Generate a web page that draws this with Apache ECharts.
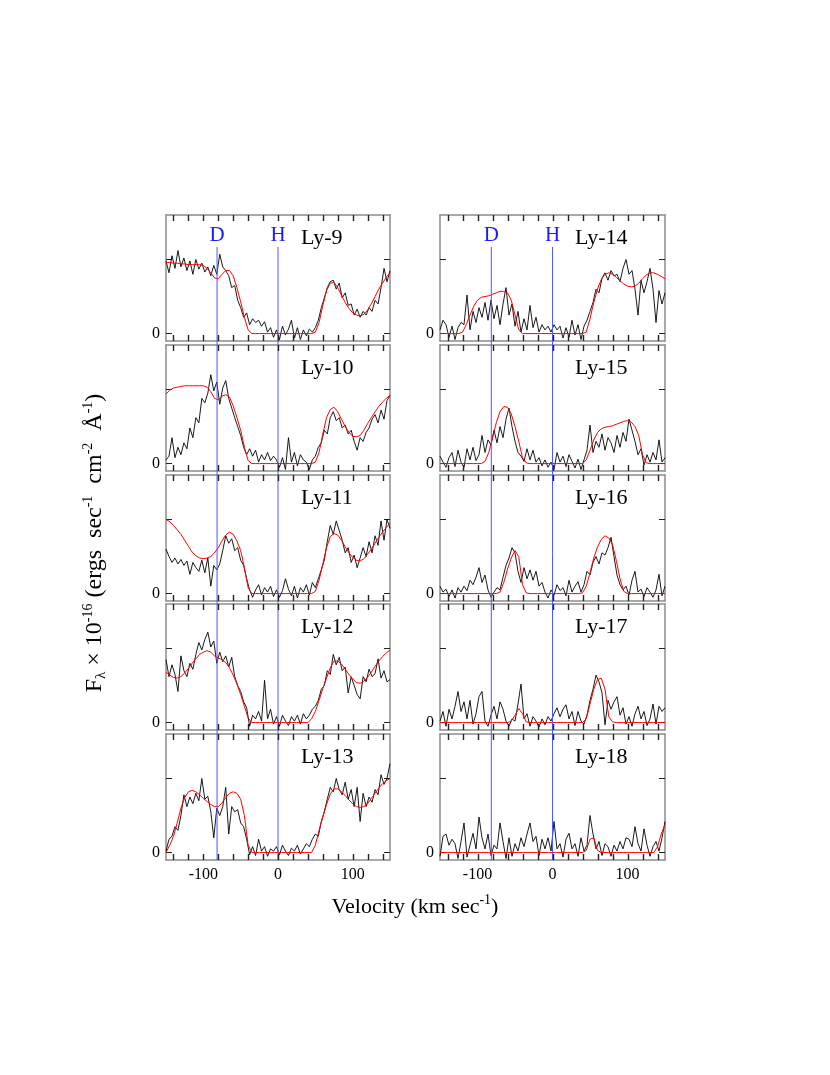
<!DOCTYPE html>
<html>
<head>
<meta charset="utf-8">
<title>Ly-9 to Ly-18 D/H profiles</title>
<script src="https://cdn.jsdelivr.net/npm/echarts@6/dist/echarts.min.js"></script>
<style>
  html, body { margin: 0; padding: 0; background: #fff; }
  #chart-container { width: 830px; height: 1075px; }
</style>
</head>
<body>
<div id="chart-container"></div>
<script>
// 速度采样点 (km/s)
var velBlack = [-150,-146,-142,-138,-134,-130,-126,-122,-118,-114,-110,-106,-102,-98,-94,-90,-86,-82,-78,-74,
  -70,-66,-62,-58,-54,-50,-46,-42,-38,-34,-30,-26,-22,-18,-14,-10,-6,-2,2,6,
  10,14,18,22,26,30,34,38,42,46,50,54,58,62,66,70,74,78,82,86,
  90,94,98,102,106,110,114,118,122,126,130,134,138,142,146,150];
var velModel = [-150,-145,-140,-135,-130,-125,-120,-115,-110,-105,-100,-95,-90,-85,-80,-75,-70,-65,-60,-55,
  -50,-45,-40,-35,-30,-25,-20,-15,-10,-5,0,5,10,15,20,25,30,35,40,45,
  50,55,60,65,70,75,80,85,90,95,100,105,110,115,120,125,130,135,140,145,150];

var panelNames = ['Ly-9','Ly-10','Ly-11','Ly-12','Ly-13','Ly-14','Ly-15','Ly-16','Ly-17','Ly-18'];

// 观测流量 (黑线)
var fluxLy9 = [0.98,0.82,1.05,0.88,1.12,0.90,1.02,0.85,0.98,0.80,
  1.00,0.87,0.95,0.83,0.90,0.78,0.92,0.80,1.07,0.90,
  0.85,0.78,0.62,0.65,0.45,0.35,0.22,0.28,0.12,0.20,
  0.15,0.18,0.10,0.16,0.02,0.08,-0.05,0.05,-0.08,0.10,
  -0.02,0.06,0.18,-0.06,0.08,-0.08,0.05,-0.03,0.06,0.02,
  0.08,0.18,0.35,0.48,0.62,0.70,0.72,0.60,0.68,0.48,
  0.55,0.38,0.40,0.25,0.33,0.22,0.30,0.25,0.35,0.30,
  0.45,0.40,0.62,0.88,0.70,0.85];
var fluxLy10 = [0.05,0.10,0.35,0.08,0.22,0.12,0.28,0.20,0.48,0.35,
  0.62,0.55,0.88,0.82,0.95,1.20,0.98,1.10,0.80,1.02,
  1.12,0.88,0.75,0.62,0.50,0.38,0.22,0.12,0.20,0.10,
  0.18,0.02,0.12,0.05,0.15,0.04,0.10,0.05,-0.05,0.08,
  -0.08,0.35,0.02,0.15,-0.03,0.12,0.05,0.02,-0.08,0.05,
  0.10,0.22,0.28,0.45,0.40,0.62,0.70,0.58,0.62,0.48,
  0.52,0.40,0.45,0.30,0.18,0.35,0.30,0.42,0.48,0.60,
  0.66,0.55,0.72,0.60,0.85,0.92];
var fluxLy11 = [0.60,0.50,0.42,0.48,0.40,0.46,0.38,0.44,0.26,0.42,
  0.35,0.30,0.45,0.28,0.48,0.10,0.38,0.32,0.40,0.58,
  0.78,0.68,0.74,0.58,0.62,0.45,0.38,0.20,0.05,-0.05,
  0.05,0.12,-0.02,0.08,0.02,0.10,-0.04,0.05,-0.05,0.04,
  0.20,0.06,-0.03,0.10,-0.06,0.08,0.02,0.12,-0.02,0.15,
  0.08,0.20,0.32,0.45,0.70,0.92,0.80,0.98,0.85,0.72,
  0.55,0.62,0.42,0.52,0.35,0.48,0.62,0.50,0.70,0.55,
  0.78,0.65,0.98,0.72,1.00,0.88];
var fluxLy12 = [0.85,0.62,0.78,0.65,0.42,0.90,0.70,0.62,0.80,0.72,
  0.92,1.08,0.98,1.12,1.22,1.02,1.10,0.80,0.95,0.82,
  0.90,0.75,0.88,0.62,0.50,0.42,0.28,0.20,-0.05,0.10,
  0.05,0.15,0.02,0.57,0.05,0.18,-0.02,0.08,-0.05,0.10,
  0.02,-0.04,0.08,0.02,0.10,-0.02,0.12,0.05,0.10,0.18,
  0.22,0.30,0.45,0.50,0.70,0.65,0.92,0.78,0.88,0.70,
  0.75,0.40,0.62,0.50,0.38,0.32,0.62,0.55,0.72,0.62,
  0.66,0.86,0.60,0.70,0.55,0.58];
var fluxLy13 = [0.02,0.18,0.22,0.35,0.30,0.50,0.78,0.62,0.75,0.66,
  0.80,0.70,1.00,0.72,0.76,0.55,0.20,0.60,0.50,0.62,
  0.88,0.25,0.62,0.55,0.58,0.40,0.35,0.18,-0.03,0.08,
  -0.04,0.18,0.02,0.08,-0.05,0.05,0.02,0.08,-0.03,0.10,
  0.02,-0.04,0.06,0.02,0.10,-0.02,0.05,0.12,0.08,0.18,
  0.25,0.22,0.42,0.55,0.72,0.88,0.82,1.00,0.85,0.78,
  0.95,0.72,0.85,0.62,0.88,0.42,0.80,0.62,0.75,0.68,
  0.85,0.78,1.05,0.92,1.00,1.20];
var fluxLy14 = [0.05,0.18,0.12,-0.05,0.10,-0.08,0.08,0.15,0.12,0.52,
  0.05,0.30,0.15,0.35,0.22,0.42,0.18,0.45,0.20,0.38,
  0.12,0.40,0.62,0.25,0.40,0.10,0.30,0.02,0.20,0.05,
  0.38,0.08,0.22,0.02,0.12,0.05,0.10,0.02,0.12,0.05,
  0.10,-0.06,0.08,-0.05,0.18,-0.02,0.12,-0.08,0.10,0.18,
  0.30,0.42,0.60,0.55,0.75,0.82,0.72,0.85,0.78,0.80,
  0.70,0.88,1.00,0.80,0.85,0.60,0.25,0.72,0.55,0.70,
  0.88,0.60,0.15,0.58,0.40,0.55];
var fluxLy15 = [0.10,0.02,-0.05,0.08,0.15,-0.04,0.18,0.02,-0.05,0.20,
  0.05,0.22,0.04,0.12,0.38,0.15,0.32,0.25,0.45,0.28,
  0.50,0.35,0.60,0.75,0.50,0.30,0.15,0.10,0.03,0.20,
  0.05,0.18,0.02,0.08,-0.03,0.05,-0.05,0.02,-0.08,0.15,
  0.02,0.10,-0.04,0.12,0.03,-0.06,0.06,-0.08,0.05,0.18,
  0.52,0.15,0.30,0.22,0.40,0.18,0.35,0.28,0.15,0.38,
  0.22,0.42,0.30,0.60,0.45,0.30,0.12,0.20,-0.02,0.12,
  0.02,0.15,0.05,0.32,0.02,0.08];
var fluxLy16 = [0.10,0.02,0.06,-0.04,0.05,-0.06,0.08,0.02,0.10,0.04,
  0.18,0.12,0.22,0.35,0.15,0.25,0.05,-0.05,0.02,0.08,
  0.05,0.22,0.38,0.48,0.62,0.55,0.30,0.15,0.35,0.20,
  0.32,0.18,0.30,0.10,0.15,0.02,-0.06,0.05,-0.02,0.12,
  0.04,0.08,-0.03,0.18,0.02,0.10,0.16,0.02,0.12,0.30,
  0.25,0.42,0.50,0.40,0.55,0.52,0.62,0.76,0.50,0.25,
  0.12,0.05,0.10,-0.02,0.18,0.30,0.02,0.06,-0.04,0.08,
  0.02,-0.05,0.05,0.26,-0.03,0.10];
var fluxLy17 = [0.02,0.15,-0.05,0.18,0.05,0.22,0.42,0.15,0.28,0.05,
  0.30,-0.02,0.12,0.35,0.42,0.02,-0.05,0.10,0.22,0.05,
  0.28,0.18,0.02,-0.05,0.05,0.02,0.25,0.52,0.05,0.12,
  -0.05,0.08,0.02,-0.06,0.05,-0.03,0.08,0.02,0.12,0.20,
  0.08,0.18,0.24,0.05,0.15,-0.04,0.15,0.02,-0.02,0.10,
  0.30,0.45,0.64,0.55,0.40,-0.03,0.30,0.18,0.28,0.35,
  0.10,0.20,-0.02,0.08,-0.05,0.12,0.22,0.05,0.15,-0.04,
  0.05,0.25,-0.02,0.22,0.15,0.20];
var fluxLy18 = [-0.05,0.22,0.25,0.10,0.18,0.12,-0.08,0.15,0.40,-0.06,
  0.10,0.26,0.05,0.48,0.20,0.05,0.25,-0.04,0.10,0.05,
  0.40,0.15,-0.08,0.20,-0.05,0.12,0.02,0.20,0.08,0.25,
  0.40,0.15,0.22,-0.04,0.18,0.05,0.20,0.02,0.42,0.05,
  0.12,-0.06,0.18,0.26,0.05,0.12,-0.05,0.20,0.02,0.10,
  0.50,0.25,0.05,0.15,-0.04,0.12,0.08,-0.05,0.10,0.02,
  0.15,0.05,0.20,0.18,0.08,0.35,0.12,0.02,0.32,0.10,
  -0.05,0.08,0.15,0.02,0.20,0.42];

// 模型拟合 (红线)
var modelLy9 = [0.96,0.96,0.95,0.95,0.94,0.94,0.93,0.93,0.93,0.93,
  0.92,0.88,0.82,0.75,0.74,0.80,0.85,0.85,0.78,0.62,
  0.43,0.22,0.05,0,0,0,0,0,0,0,
  0,0,0,0,0,0,0,0,0,0,
  0.02,0.15,0.38,0.58,0.68,0.69,0.62,0.52,0.42,0.34,
  0.28,0.25,0.24,0.26,0.32,0.40,0.50,0.60,0.68,0.76,
  0.82];
var modelLy10 = [0.94,0.99,1.02,1.03,1.04,1.05,1.05,1.05,1.05,1.05,
  1.05,1.03,0.97,0.88,0.86,0.91,0.93,0.90,0.78,0.62,
  0.45,0.22,0.04,0,0,0,0,0,0,0,
  0,0,0,0,0,0,0,0,0,0,
  0.02,0.15,0.40,0.62,0.73,0.76,0.70,0.60,0.50,0.42,
  0.37,0.36,0.38,0.45,0.54,0.62,0.70,0.77,0.83,0.88,
  0.92];
var modelLy11 = [1.00,0.97,0.92,0.86,0.80,0.72,0.64,0.56,0.51,0.48,
  0.47,0.48,0.50,0.55,0.62,0.71,0.79,0.83,0.80,0.71,
  0.58,0.35,0.08,0,0,0,0,0,0,0,
  0,0,0,0,0,0,0,0,0,0,
  0.03,0.18,0.40,0.62,0.77,0.81,0.79,0.72,0.63,0.55,
  0.49,0.45,0.44,0.47,0.53,0.60,0.68,0.76,0.83,0.89,
  0.95];
var modelLy12 = [0.68,0.64,0.61,0.60,0.62,0.67,0.73,0.80,0.86,0.92,
  0.95,0.97,0.95,0.90,0.87,0.85,0.81,0.74,0.64,0.52,
  0.38,0.22,0.06,0,0,0,0,0,0,0,
  0,0,0,0,0,0,0,0,0,0.05,
  0.15,0.30,0.46,0.60,0.74,0.83,0.83,0.79,0.72,0.65,
  0.59,0.54,0.53,0.56,0.61,0.68,0.76,0.83,0.89,0.94,
  0.98];
var modelLy13 = [0.00,0.10,0.22,0.40,0.60,0.74,0.82,0.84,0.82,0.78,
  0.73,0.69,0.65,0.62,0.62,0.67,0.74,0.80,0.82,0.80,
  0.72,0.50,0.10,0,0,0,0,0,0,0,
  0,0,0,0,0,0,0,0,0,0,
  0.10,0.30,0.48,0.65,0.79,0.86,0.86,0.82,0.77,0.71,
  0.66,0.62,0.61,0.62,0.66,0.73,0.80,0.87,0.93,0.97,
  1.00];
var modelLy14 = [0,0,0,0,0,0,0.02,0.12,0.25,0.37,
  0.45,0.49,0.50,0.51,0.53,0.55,0.57,0.57,0.55,0.45,
  0.25,0.05,0,0,0,0,0,0,0,0,
  0,0,0,0,0,0,0,0,0,0.02,
  0.20,0.42,0.60,0.73,0.80,0.82,0.80,0.76,0.71,0.67,
  0.64,0.63,0.64,0.68,0.74,0.79,0.82,0.82,0.80,0.77,
  0.74];
var modelLy15 = [0,0,0,0,0,0,0,0,0,0,
  0,0,0.03,0.15,0.35,0.55,0.70,0.77,0.76,0.67,
  0.50,0.30,0.08,0.01,0,0,0,0,0,0,
  0,0,0,0,0,0,0,0,0,0.05,
  0.18,0.32,0.42,0.47,0.49,0.50,0.51,0.53,0.55,0.57,
  0.58,0.56,0.50,0.38,0.12,0.01,0,0,0,0,
  0];
var modelLy16 = [0,0,0,0,0,0,0,0,0,0,
  0,0,0,0,0,0,0.02,0.15,0.33,0.48,
  0.58,0.50,0.12,0.01,0,0,0,0,0,0,
  0,0,0,0,0,0,0,0,0.01,0.10,
  0.28,0.48,0.63,0.73,0.78,0.75,0.66,0.45,0.20,0.03,
  0,0,0,0,0,0,0,0,0,0,
  0];
var modelLy17 = [0,0,0,0,0,0,0,0,0,0,
  0,0,0,0,0,0,0,0,0,0.02,
  0.10,0.19,0.12,0.01,0,0,0,0,0,0,
  0,0,0,0,0,0,0,0,0,0.05,
  0.25,0.45,0.58,0.60,0.45,0.08,0.01,0,0,0,
  0,0,0,0,0,0,0,0,0,0,
  0];
var modelLy18 = [0,0,0,0,0,0,0,0,0,0,
  0,0,0,0,0,0,0,0,0,0,
  0,0,0,0,0,0,0,0,0,0,
  0,0,0,0,0,0,0,0,0,0.03,
  0.18,0.20,0.03,0,0,0,0,0,0,0,
  0,0,0,0,0,0,0,0,0.08,0.25,
  0.38];

var fluxes = [fluxLy9, fluxLy10, fluxLy11, fluxLy12, fluxLy13, fluxLy14, fluxLy15, fluxLy16, fluxLy17, fluxLy18];
var models = [modelLy9, modelLy10, modelLy11, modelLy12, modelLy13, modelLy14, modelLy15, modelLy16, modelLy17, modelLy18];

// 刻度
var xTickValues = [-140,-120,-100,-80,-60,-40,-20,0,20,40,60,80,100,120,140];
var xLabelValues = [-100, 0, 100];
var yTickValues = [0, 1];
var yLabelValues = [0];

// D 和 H 的速度位置
var D_VEL = -81.6;
var H_VEL = 0;

// 获取dom
var dom = document.getElementById('chart-container');
var myChart = echarts.init(dom, null, { renderer: 'canvas' });

var SERIF = '"Liberation Serif", "DejaVu Serif", serif';
var colLeft = [166, 440];
var colWidth = [224, 225];
var rowTop = [215, 345, 475, 604, 734];
var rowHeight = 126;
var Y_MIN = -0.1, Y_MAX = 1.6;
var TICK_LEN = 6;
var frameColor = '#8c8c8c';
var tickColor = '#222';
var blueLine = '#4a5aff';

var grids = [], xAxes = [], yAxes = [], series = [], graphics = [];

panelNames.forEach(function (name, i) {
  var col = Math.floor(i / 5), row = i % 5;
  var isBottom = row === 4;
  grids.push({
    left: colLeft[col], top: rowTop[row], width: colWidth[col], height: rowHeight,
    show: false
  });
  // 下面和上面的x轴 (轴线当作边框)
  ['bottom', 'top'].forEach(function (pos) {
    xAxes.push({
      gridIndex: i, type: 'value', min: -150, max: 150, position: pos,
      axisLine: { show: true, onZero: false, lineStyle: { color: frameColor, width: 1.5 } },
      splitLine: { show: false },
      axisTick: { show: false },
      axisLabel: {
        show: pos === 'bottom' && isBottom, customValues: xLabelValues, margin: 7,
        fontFamily: SERIF, fontSize: 16, color: '#000'
      }
    });
  });
  // 左右y轴
  ['left', 'right'].forEach(function (pos) {
    yAxes.push({
      gridIndex: i, type: 'value', min: Y_MIN, max: Y_MAX, position: pos,
      axisLine: { show: true, onZero: false, lineStyle: { color: frameColor, width: 1.5 } },
      splitLine: { show: false },
      axisTick: { show: true, inside: true, length: TICK_LEN, customValues: yTickValues, lineStyle: { color: tickColor } },
      axisLabel: {
        show: pos === 'left', customValues: yLabelValues, margin: 6,
        fontFamily: SERIF, fontSize: 16, color: '#000'
      }
    });
  });
  series.push({
    type: 'line', xAxisIndex: 2 * i, yAxisIndex: 2 * i,
    data: velBlack.map(function (v, k) { return [v, fluxes[i][k]]; }),
    showSymbol: false, silent: true, clip: true,
    lineStyle: { color: '#000', width: 0.9 }
  });
  series.push({
    type: 'line', xAxisIndex: 2 * i, yAxisIndex: 2 * i,
    data: velModel.map(function (v, k) { return [v, models[i][k]]; }),
    showSymbol: false, silent: true, clip: true,
    lineStyle: { color: '#ff0000', width: 1 }
  });
  graphics.push({
    type: 'text', x: colLeft[col] + 135, y: rowTop[row] + 23,
    style: { text: name, fontFamily: SERIF, fontSize: 22, fill: '#000', verticalAlign: 'middle' }
  });
});

// D/H 竖线 覆盖整列 (用折线画)
var lineNames = ['D', 'H'];
var lineVels = [D_VEL, H_VEL];
[0, 1].forEach(function (col) {
  var g = grids.length;
  grids.push({ left: colLeft[col], top: 247, width: colWidth[col], height: 613, show: false });
  xAxes.push({ gridIndex: g, type: 'value', min: -150, max: 150, show: false });
  yAxes.push({ gridIndex: g, type: 'value', min: 0, max: 1, show: false });
  lineNames.forEach(function (nm, j) {
    series.push({
      type: 'line', xAxisIndex: xAxes.length - 1, yAxisIndex: yAxes.length - 1,
      data: [[lineVels[j], 0], [lineVels[j], 1]],
      showSymbol: false, silent: true, clip: false,
      lineStyle: { color: blueLine, width: 1 },
      endLabel: {
        show: true, formatter: nm, color: '#1a1aff', fontFamily: SERIF, fontSize: 21,
        align: 'center', verticalAlign: 'bottom', distance: 0, offset: [0, -1]
      }
    });
  });
});

// 轴标题
var richBase = { fontFamily: SERIF, fontSize: 24, lineHeight: 28, fill: '#000' };
var richSup = { fontFamily: SERIF, fontSize: 14, lineHeight: 14, verticalAlign: 'top', fill: '#000' };
var richSub = { fontFamily: SERIF, fontSize: 15, lineHeight: 15, verticalAlign: 'bottom', fill: '#000' };
var richBaseX = { fontFamily: SERIF, fontSize: 22, lineHeight: 28, fill: '#000' };

graphics.push({
  type: 'text', x: 95, y: 543, rotation: Math.PI / 2,
  style: {
    text: '{a|F}{sub|λ}{a| × 10}{sup|-16}{a| (ergs  sec}{sup|-1}{a|  cm}{sup|-2}{a|  Å}{sup|-1}{a|)}',
    align: 'center', verticalAlign: 'middle',
    rich: { a: richBase, sup: richSup, sub: richSub }
  }
});
graphics.push({
  type: 'text', x: 415, y: 907,
  style: {
    text: '{a|Velocity (km sec}{sup|-1}{a|)}',
    align: 'center', verticalAlign: 'middle',
    rich: { a: richBaseX, sup: richSup }
  }
});

var option = {
  animation: false,
  backgroundColor: '#fff',
  grid: grids,
  xAxis: xAxes,
  yAxis: yAxes,
  series: series,
  graphic: graphics
};

myChart.setOption(option);

// x 方向的刻度 (上下两边朝里), 位置由坐标轴换算
var tickGraphics = [];
panelNames.forEach(function (name, i) {
  xTickValues.forEach(function (v) {
    var b = myChart.convertToPixel({ gridIndex: i }, [v, Y_MIN]);
    var t = myChart.convertToPixel({ gridIndex: i }, [v, Y_MAX]);
    if (!b || !t) { return; }
    var x = Math.round(b[0]) + 0.5;
    tickGraphics.push({
      type: 'line', silent: true, z: 100,
      shape: { x1: x, y1: b[1], x2: x, y2: b[1] - TICK_LEN },
      style: { stroke: tickColor, lineWidth: 1.4 }
    });
    tickGraphics.push({
      type: 'line', silent: true, z: 100,
      shape: { x1: x, y1: t[1], x2: x, y2: t[1] + TICK_LEN },
      style: { stroke: tickColor, lineWidth: 1.4 }
    });
  });
});
myChart.setOption({ graphic: { elements: graphics.concat(tickGraphics) } });

window.addEventListener('resize', myChart.resize);
</script>
</body>
</html>
